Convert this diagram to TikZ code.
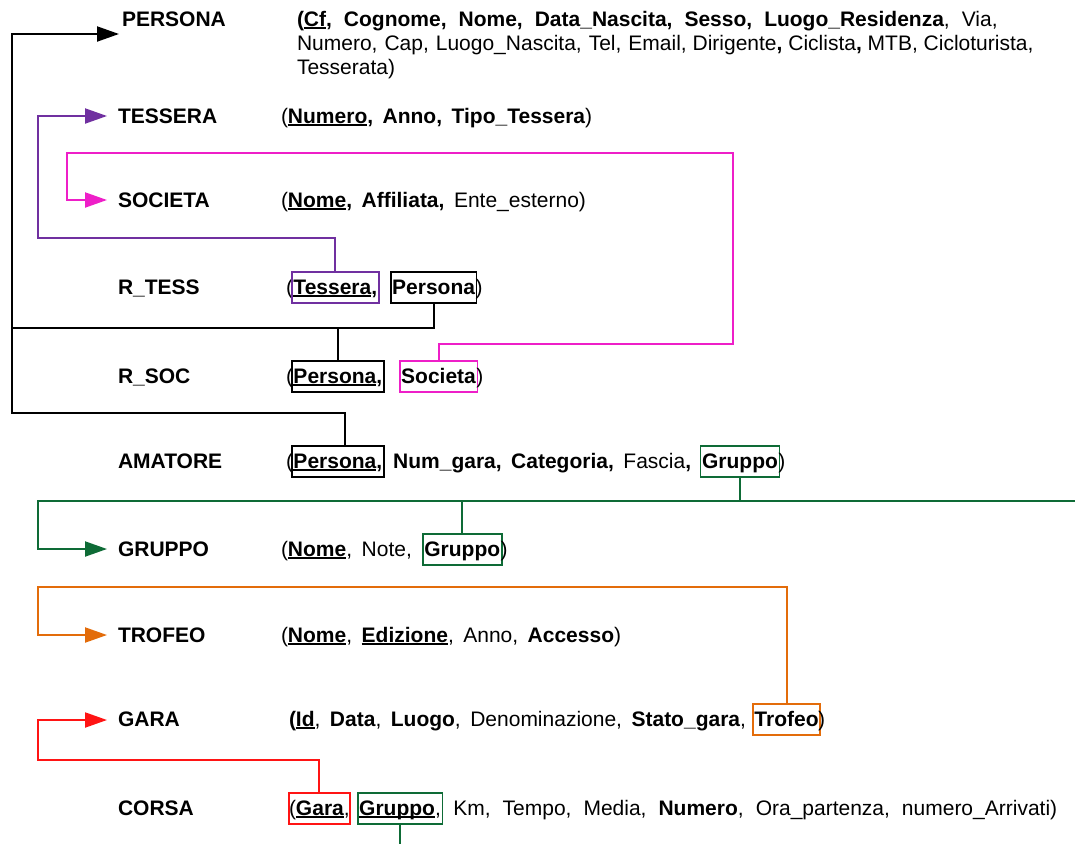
\documentclass[tikz,border=0pt]{standalone}
\usepackage{fontspec}
\setmainfont{Liberation Sans}
\usetikzlibrary{arrows.meta}
\definecolor{cPurple}{HTML}{7030A0}
\definecolor{cPink}{HTML}{EE1FC8}
\definecolor{cGreen}{HTML}{0E6B36}
\definecolor{cOrange}{HTML}{E36C0A}
\definecolor{cRed}{HTML}{FF1414}
% space between attributes
\newcommand\fgap{\hspace{9.5pt}}
\newcommand\wgap{\hspace{12pt}}
\newcommand\sgap{\hspace{7pt}}
% key underline that runs through the descenders
\newcommand\undl[1]{\setbox0\hbox{#1}\rlap{\rule[-2.6pt]{\wd0}{1.4pt}}\box0}
\begin{document}
\begin{tikzpicture}[x=1pt,y=-1pt,font=\fontsize{21pt}{24pt}\selectfont,
  txt/.style={anchor=base west,inner sep=0pt,outer sep=0pt},
  ent/.style={txt,font=\fontsize{21pt}{24pt}\selectfont\bfseries},
  fk/.style={anchor=base west,draw,line width=1.7pt,inner xsep=1.5pt,inner ysep=4pt,
    text height=18pt,text depth=5pt,outer sep=0pt},
  conn/.style={line width=2pt},
  arr/.style={conn,-{Triangle[length=22pt,width=15pt]}}]
\useasboundingbox (0,0) rectangle (1075,844);
\fill[white] (0,0) rectangle (1075,844);

% relation names
\node[ent] (ePersona) at (122,26) {PERSONA};
\node[ent] (eTessera) at (118,123) {TESSERA};
\node[ent] (eSocieta) at (118,207) {SOCIETA};
\node[ent] (eRTess)   at (118,294) {R\_TESS};
\node[ent] (eRSoc)    at (118,383) {R\_SOC};
\node[ent] (eAmatore) at (118,468) {AMATORE};
\node[ent] (eGruppo)  at (118,556) {GRUPPO};
\node[ent] (eTrofeo)  at (118,642) {TROFEO};
\node[ent] (eGara)    at (118,726) {GARA};
\node[ent] (eCorsa)   at (118,815) {CORSA};

% PERSONA
\node[txt] (pl1) at (297,26) {\textbf{(\undl{Cf},\wgap Cognome,\wgap Nome,\wgap Data\_Nascita,\wgap Sesso,\wgap Luogo\_Residenza},\wgap Via,};
\node[txt] (pl2) at (297,50) {Numero,\sgap Cap,\sgap Luogo\_Nascita,\sgap Tel,\sgap Email, Dirigente\textbf{,} Ciclista\textbf{,} MTB, Cicloturista,};
\node[txt] (pl3) at (297,74) {Tesserata)};

% TESSERA
\node[txt] (teT) at (281,123) {(\textbf{\undl{Numero},\fgap Anno,\fgap Tipo\_Tessera})};

% SOCIETA
\node[txt] (soT) at (281,207) {(\textbf{\undl{Nome},\fgap Affiliata,}\fgap Ente\_esterno)};

% R_TESS
\node[txt] (rtO) at (286,294) {(};
\node[fk,draw=cPurple] (rtT) at ([xshift=-1pt]rtO.base east) {\bfseries\undl{Tessera},};
\node[fk] (rtP) at ([xshift=12pt]rtT.base east) {\bfseries Persona};
\node[txt] (rtC) at ([xshift=-1pt]rtP.base east) {)};

% R_SOC
\node[txt] (rsO) at (286,383) {(};
\node[fk] (rsP) at ([xshift=-1pt]rsO.base east) {\bfseries\undl{Persona},};
\node[fk,draw=cPink] (rsS) at ([xshift=16pt]rsP.base east) {\bfseries Societa};
\node[txt] (rsC) at ([xshift=-1pt]rsS.base east) {)};

% AMATORE
\node[txt] (amO) at (286,468) {(};
\node[fk] (amP) at ([xshift=-1pt]amO.base east) {\bfseries\undl{Persona},};
\node[txt] (amT) at ([xshift=9.5pt]amP.base east) {\textbf{Num\_gara,}\fgap\textbf{Categoria,}\fgap Fascia\textbf{,}};
\node[fk,draw=cGreen] (amG) at ([xshift=9.5pt]amT.base east) {\bfseries Gruppo};
\node[txt] (amC) at ([xshift=-1pt]amG.base east) {)};

% GRUPPO
\node[txt] (grT) at (281,556) {(\textbf{\undl{Nome}},\fgap Note,};
\node[fk,draw=cGreen] (grG) at ([xshift=11pt]grT.base east) {\bfseries Gruppo};
\node[txt] (grC) at ([xshift=-1pt]grG.base east) {)};

% TROFEO
\node[txt] (trT) at (281,642) {(\textbf{\undl{Nome}},\fgap\textbf{\undl{Edizione}},\fgap Anno,\fgap\textbf{Accesso})};

% GARA
\node[txt] (gaT) at (289,726) {\textbf{(\undl{Id}},\fgap\textbf{Data},\fgap\textbf{Luogo},\fgap Denominazione,\fgap\textbf{Stato\_gara},};
\node[fk,draw=cOrange] (gaF) at ([xshift=7pt]gaT.base east) {\bfseries Trofeo};
\node[txt] (gaC) at ([xshift=-2pt]gaF.base east) {)};

% CORSA
\node[fk,draw=cRed,inner xsep=0pt] (coA) at (289,815) {(\textbf{\undl{Gara}},};
\node[fk,draw=cGreen] (coG) at ([xshift=8pt]coA.base east) {\textbf{\undl{Gruppo}},};
\node[txt] (coT) at ([xshift=11pt]coG.base east) {Km,\wgap Tempo,\wgap Media,\wgap\textbf{Numero},\wgap Ora\_partenza,\wgap numero\_Arrivati)};

% routing points
\coordinate (bkTop) at (119,34);
\coordinate (bkMid) at (12,328);
\coordinate (bkLow) at (12,413);
\coordinate (puL) at (38,238);
\coordinate (puTip) at (107,116);
\coordinate (pkR) at (733,344);
\coordinate (pkL) at (67,153);
\coordinate (pkTip) at (107,200);
\coordinate (gnL) at (38,501);
\coordinate (gnR) at (1075,501);
\coordinate (gnTip) at (107,549);
\coordinate (orL) at (38,587);
\coordinate (orTip) at (107,635);
\coordinate (rdL) at (38,760);
\coordinate (rdTip) at (107,720);
\coordinate (pageBot) at (0,844);

% foreign keys to PERSONA
\draw[arr] ([xshift=7pt]amP.north) |- (bkLow) |- (bkTop);
\draw[conn] (rtP.south) |- (bkMid);
\draw[conn] (rsP.north) -- (rsP.north |- bkMid);

% foreign key to TESSERA
\draw[arr,cPurple] (rtT.north) |- (puL) |- (puTip);

% foreign key to SOCIETA
\draw[arr,cPink] (rsS.north) |- (pkR) |- (pkL) |- (pkTip);

% foreign keys to GRUPPO
\draw[conn,cGreen] (amG.south) |- (gnR);
\draw[arr,cGreen] (amG.south) |- (gnL) |- (gnTip);
\draw[conn,cGreen] (grG.north) -- (grG.north |- gnL);
\draw[conn,cGreen] (coG.south) -- (coG.south |- pageBot);

% foreign key to TROFEO
\draw[arr,cOrange] (gaF.north) |- (orL) |- (orTip);

% foreign key to GARA
\draw[arr,cRed] (coA.north) |- (rdL) |- (rdTip);
\end{tikzpicture}
\end{document}
